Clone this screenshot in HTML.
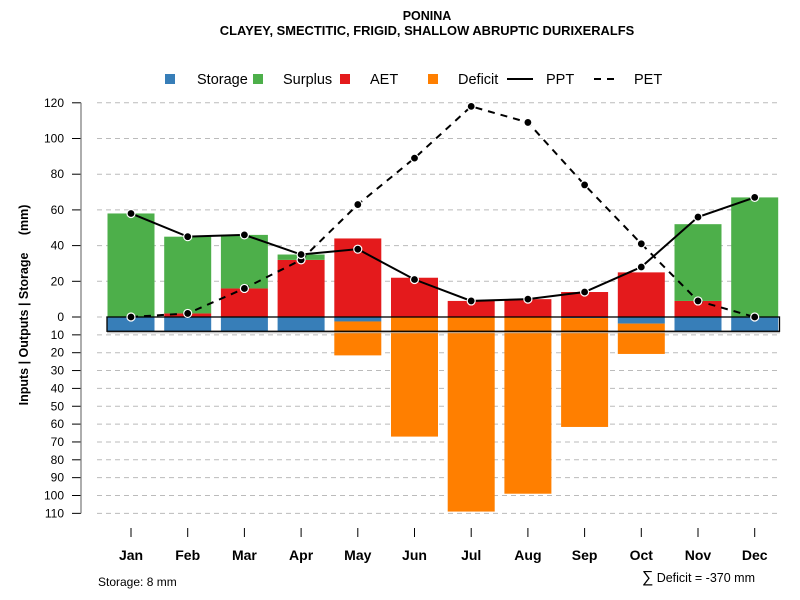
<!DOCTYPE html>
<html><head><meta charset="utf-8"><style>
body{margin:0;background:#fff}
svg{font-family:"Liberation Sans",sans-serif;display:block}
</style></head><body>
<svg id="chart" width="800" height="600" viewBox="0 0 800 600" xmlns="http://www.w3.org/2000/svg">
<rect width="800" height="600" fill="#fff"/>
<text x="427" y="20" text-anchor="middle" font-size="12.5" font-weight="bold">PONINA</text>
<text x="427" y="35" text-anchor="middle" font-size="12.9" font-weight="bold">CLAYEY, SMECTITIC, FRIGID, SHALLOW ABRUPTIC DURIXERALFS</text>
<g id="legend" font-size="14.5">
<rect x="165" y="74" width="10" height="10" fill="#377eb8"/>
<text x="197" y="84">Storage</text>
<rect x="253" y="74" width="10" height="10" fill="#4daf4a"/>
<text x="283" y="84">Surplus</text>
<rect x="340" y="74" width="10" height="10" fill="#e41a1c"/>
<text x="370" y="84">AET</text>
<rect x="428" y="74" width="10" height="10" fill="#ff7f00"/>
<text x="458" y="84">Deficit</text>
<line x1="507" y1="79" x2="533" y2="79" stroke="#000" stroke-width="2"/>
<text x="546" y="84">PPT</text>
<line x1="594" y1="79" x2="620" y2="79" stroke="#000" stroke-width="2" stroke-dasharray="7,6"/>
<text x="634" y="84">PET</text>
</g>
<g id="grid"></g>
<g id="bars"></g>
<g id="lines"></g>
<g id="axes"></g>
<text transform="translate(28,305) rotate(-90)" text-anchor="middle" font-size="12.5" font-weight="bold" xml:space="preserve">Inputs | Outputs | Storage     (mm)</text>
<text x="98" y="586" font-size="12">Storage: 8 mm</text>
<text x="755" y="582" text-anchor="end" font-size="12.5"><tspan font-size="16">∑</tspan> Deficit = -370 mm</text>
</svg>
<script>
const months=["Jan","Feb","Mar","Apr","May","Jun","Jul","Aug","Sep","Oct","Nov","Dec"];
const ppt=[58,45,46,35,38,21,9,10,14,28,56,67];
const pet=[0,2,16,32,63,89,118,109,74,41,9,0];
const aet=[0,2,16,32,44,22,9,10,14,25,9,0];
const surplus=[58,43,30,3,0,0,0,0,0,0,43,67];
const storage=[8,8,8,8,2.5,0,0,0,0.6,3.7,8,8];
const deficit=[0,0,0,0,19,67,109,99,61,17,0,0];
const storageMax=8;
const upTicks=[0,20,40,60,80,100,120];
const downTicks=[10,20,30,40,50,60,70,80,90,100,110];
const NS="http://www.w3.org/2000/svg";
const y0=317,k=1.785;
function yUp(v){return y0-v*k;}
function yDown(v){return y0+v*k;}
function xC(i){return 131+i*56.7;}
const bw=47;
function mk(tag,attrs,parent){const e=document.createElementNS(NS,tag);for(const a in attrs)e.setAttribute(a,attrs[a]);document.getElementById(parent).appendChild(e);return e;}
upTicks.forEach(t=>{
 const g=mk('line',{x1:97,x2:780,y1:yUp(t),y2:yUp(t),stroke:'#bbb','stroke-dasharray':'5,4'},'grid');
 
 
 const tk=mk('line',{x1:72,x2:81,y1:yUp(t),y2:yUp(t),stroke:'#000'},'axes');
 
 
 const tx=mk('text',{x:64,y:yUp(t)+4,'text-anchor':'end','font-size':12},'axes');
 tx.textContent=t;
 
 
});
downTicks.forEach(t=>{
 const g=mk('line',{x1:97,x2:780,y1:yDown(t),y2:yDown(t),stroke:'#bbb','stroke-dasharray':'5,4'},'grid');
 
 
 const tk=mk('line',{x1:72,x2:81,y1:yDown(t),y2:yDown(t),stroke:'#000'},'axes');
 
 
 const tx=mk('text',{x:64,y:yDown(t)+4,'text-anchor':'end','font-size':12},'axes');
 tx.textContent=t;
 
 
});
const ax=mk('line',{x1:81,x2:81,y1:yUp(120),y2:yDown(110),stroke:'#777','stroke-width':1.2},'axes');


months.forEach((m,i)=>{
 const x=xC(i)-bw/2;
 if(aet[i]>0){const r=mk('rect',{x:x,y:yUp(aet[i]),width:bw,height:aet[i]*k,fill:'#e41a1c'},'bars');
  
  }
 if(surplus[i]>0){const r=mk('rect',{x:x,y:yUp(aet[i]+surplus[i]),width:bw,height:surplus[i]*k,fill:'#4daf4a'},'bars');
  
  }
 if(storage[i]>0){const r=mk('rect',{x:x,y:y0,width:bw,height:storage[i]*k,fill:'#377eb8'},'bars');
  
  }
 if(deficit[i]>0){const r=mk('rect',{x:x,y:yDown(storage[i]),width:bw,height:deficit[i]*k,fill:'#ff7f00'},'bars');
  
  }
 const tk=mk('line',{x1:xC(i),x2:xC(i),y1:528,y2:537,stroke:'#000'},'axes');
 
 
 const tx=mk('text',{x:xC(i),y:560,'text-anchor':'middle','font-size':14,'font-weight':'bold'},'axes');
 tx.textContent=m;
 
 
});
const sb=mk('rect',{x:107,y:y0,width:672.5,height:storageMax*k,fill:'none',stroke:'#000','stroke-width':1.3},'bars');


const sh=mk('line',{x1:107,x2:780,y1:y0+storageMax*k+1.5,y2:y0+storageMax*k+1.5,stroke:'#aaa'},'bars');


function drawLine(vals,name,dash){
 const p=mk('polyline',{points:vals.map((v,i)=>xC(i)+','+yUp(v)).join(' '),fill:'none',stroke:'#000','stroke-width':2,'stroke-dasharray':dash},'lines');
 
 
 vals.forEach((v,i)=>{const c=mk('circle',{cx:xC(i),cy:yUp(v),r:4,fill:'#000',stroke:'#fff','stroke-width':1.2},'lines');
  
  });
}
drawLine(pet,'pet','7,6');
drawLine(ppt,'ppt','none');
</script>
</body></html>
